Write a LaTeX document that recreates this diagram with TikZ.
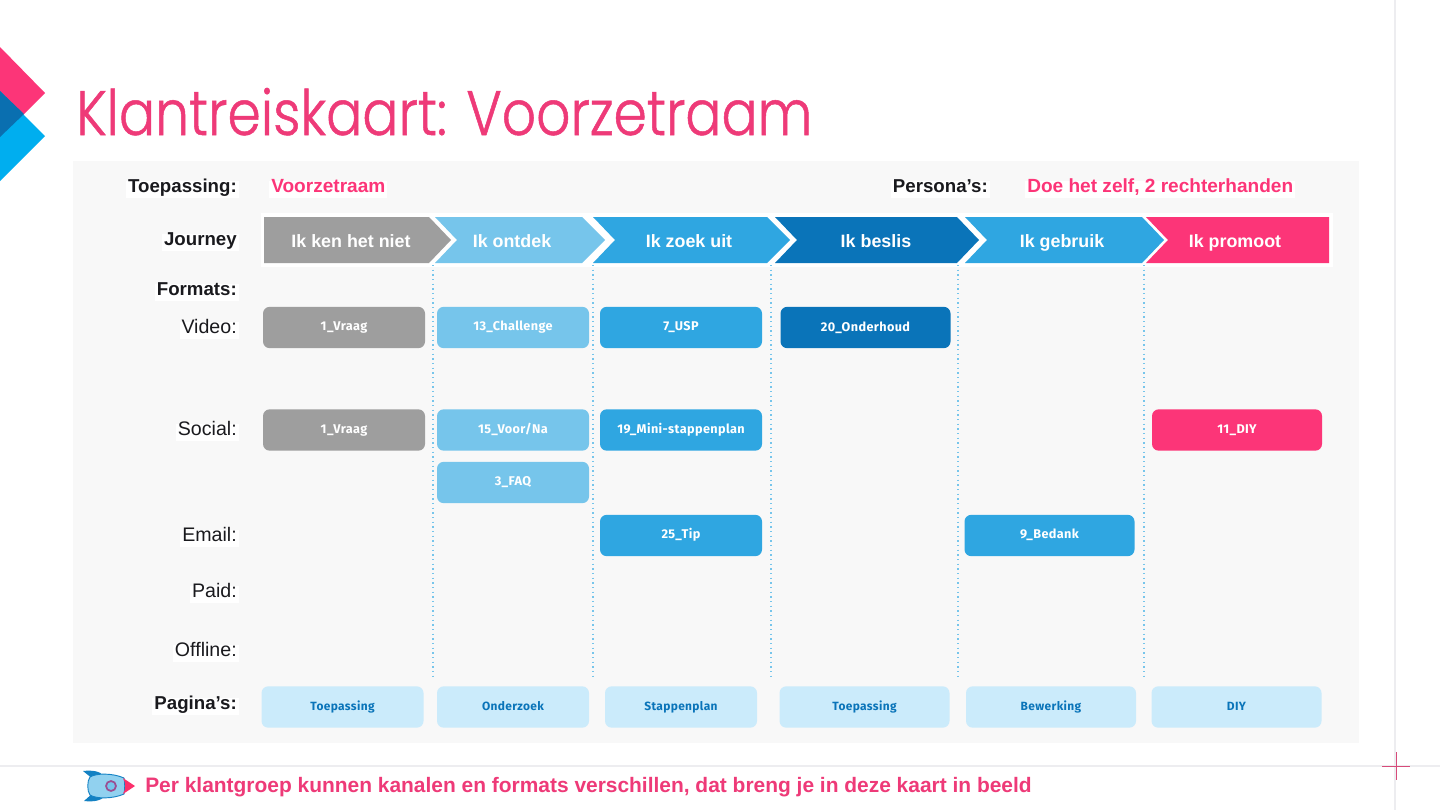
\documentclass[tikz,border=0pt]{standalone}
\usepackage{fontspec}
\setmainfont{Liberation Sans}
\newfontfamily\titlefont[FakeStretch=0.855,FakeBold=0.8]{Poppins Light}
\newfontfamily\boxfont[LetterSpace=3]{Fira Sans}
\definecolor{pinkc}{HTML}{FC3578}
\definecolor{titlec}{HTML}{EE3A78}
\definecolor{darkb}{HTML}{0A74B9}
\definecolor{midb}{HTML}{2FA6E1}
\definecolor{lightb}{HTML}{76C5EB}
\definecolor{grayc}{HTML}{9E9E9E}
\definecolor{paleb}{HTML}{CBEBFB}
\definecolor{panelc}{HTML}{F8F8F8}
\definecolor{gridc}{HTML}{EDEDF0}
\definecolor{skyc}{HTML}{00AEEF}
\definecolor{logod}{HTML}{0A6FB0}
\definecolor{inkc}{HTML}{1A1A1E}
\tikzset{
  x=0.75pt,y=-0.75pt,
  lab/.style={anchor=east,yshift=-2.6pt,fill=white,inner sep=1.5pt,text=inkc,text height=0.74em,text depth=0.22em,font=\fontsize{14.7}{17}\selectfont},
  blab/.style={lab,font=\bfseries\fontsize{14}{16}\selectfont},
  pinklab/.style={anchor=west,yshift=-2.6pt,fill=white,inner sep=1.5pt,text=pinkc,text height=0.74em,text depth=0.22em,font=\bfseries\fontsize{14.3}{16}\selectfont},
  chevtext/.style={yshift=-2.2pt,text=white,text height=0.72em,text depth=0.2em,font=\bfseries\fontsize{13.4}{15}\selectfont},
  card/.style={rounded corners=5pt,minimum height=31pt,inner sep=0pt,text=white,text height=0.72em,text depth=0.22em,font=\boxfont\bfseries\fontsize{9.5}{11}\selectfont},
  page/.style={card,fill=paleb,text=darkb,font=\boxfont\bfseries\fontsize{8.95}{11}\selectfont},
  sep/.style={draw=lightb,line width=1.1pt,dash pattern=on 1.1pt off 2.4pt},
}
\begin{document}
\begin{tikzpicture}
\useasboundingbox (0,0) rectangle (1440,810);
\fill[white] (0,0) rectangle (1440,810);
% guides
\draw[gridc,line width=1pt] (1395,0) -- (1395,810);
\draw[gridc,line width=1pt] (0,766) -- (1440,766);
\draw[pinkc!70!gray,line width=0.75pt] (1396,752) -- (1396,780) (1382,766) -- (1410,766);
% logo
\fill[pinkc] (0,47) -- (45,93) -- (0,138) -- cycle;
\fill[skyc] (0,91) -- (45,136) -- (0,181) -- cycle;
\fill[logod] (0,91) -- (24,114) -- (0,137) -- cycle;
% title
\node[anchor=base west,inner sep=0pt,text=titlec,font=\titlefont\fontsize{47}{50}\selectfont] (title) at (76,135) {Klantreiskaart: Voorzetraam};
% panel
\fill[panelc] (73,161) rectangle (1359,743);
% header row
\node[blab] (toep) at (239,186) {Toepassing:};
\node[pinklab] (toepv) at (269,186) {Voorzetraam};
\node[blab] (pers) at (990,186) {Persona’s:};
\node[pinklab] (persv) at (1025,186) {Doe het zelf, 2 rechterhanden};
% journey band
\fill[white] (261,213) rectangle (1333,267);
\fill[grayc] (264,217) -- (429,217) -- (451,240) -- (429,263) -- (264,263) -- cycle;
\fill[lightb] (435,217) -- (582,217) -- (605,240) -- (582,263) -- (435,263) -- (457,240) -- cycle;
\fill[midb] (593,217) -- (767,217) -- (790,240) -- (767,263) -- (593,263) -- (615,240) -- cycle;
\fill[darkb] (775,217) -- (957,217) -- (979,240) -- (957,263) -- (775,263) -- (797,240) -- cycle;
\fill[midb] (965,217) -- (1142,217) -- (1164,240) -- (1142,263) -- (965,263) -- (987,240) -- cycle;
\fill[pinkc] (1146,217) -- (1329,217) -- (1329,263) -- (1146,263) -- (1168,240) -- cycle;
\node[chevtext] (c1) at (351,241) {Ik ken het niet};
\node[chevtext] (c2) at (512,241) {Ik ontdek};
\node[chevtext] (c3) at (689,241) {Ik zoek uit};
\node[chevtext] (c4) at (876,241) {Ik beslis};
\node[chevtext] (c5) at (1062,241) {Ik gebruik};
\node[chevtext] (c6) at (1235,241) {Ik promoot};
% dotted separators
\foreach \n/\x in {a/433,b/593,c/771,d/958,e/1144}{
  \coordinate (s\n t) at (\x,265);
  \coordinate (s\n b) at (\x,677);
  \draw[sep] (s\n t) -- (s\n b);
}
% row labels
\node[blab] (journey) at (239,239) {Journey};
\node[blab] (formats) at (239,289) {Formats:};
\node[lab] (video) at (239,327) {Video:};
\node[lab] (social) at (239,429) {Social:};
\node[lab] (email) at (239,535) {Email:};
\node[lab] (paid) at (239,591) {Paid:};
\node[lab] (offline) at (239,650) {Offline:};
\node[blab] (pag) at (239,703) {Pagina’s:};
% cards
\node[card,fill=grayc,minimum width=121.5pt] (v1) at (344,327.5) {1\_Vraag};
\node[card,fill=lightb,minimum width=114pt] (v2) at (513,327.5) {13\_Challenge};
\node[card,fill=midb,minimum width=121.5pt] (v3) at (681,327.5) {7\_USP};
\node[card,fill=darkb,minimum width=127.5pt,text height=0.88em] (v4) at (865.5,327.5) {20\_Onderhoud};
\node[card,fill=grayc,minimum width=121.5pt] (s1) at (344,430) {1\_Vraag};
\node[card,fill=lightb,minimum width=114pt] (s2) at (513,430) {15\_Voor/Na};
\node[card,fill=midb,minimum width=121.5pt] (s3) at (681,430) {19\_Mini-stappenplan};
\node[card,fill=pinkc,minimum width=127.5pt] (s6) at (1237,430) {11\_DIY};
\node[card,fill=lightb,minimum width=114pt] (s7) at (513,482.5) {3\_FAQ};
\node[card,fill=midb,minimum width=121.5pt] (e3) at (681,535.5) {25\_Tip};
\node[card,fill=midb,minimum width=127.5pt] (e5) at (1049.5,535.5) {9\_Bedank};
% pages
\node[page,minimum width=121.5pt] (p1) at (342.5,707) {Toepassing};
\node[page,minimum width=114pt] (p2) at (513,707) {Onderzoek};
\node[page,minimum width=114pt] (p3) at (681,707) {Stappenplan};
\node[page,minimum width=127.5pt] (p4) at (864.5,707) {Toepassing};
\node[page,minimum width=127.5pt] (p5) at (1051,707) {Bewerking};
\node[page,minimum width=127.5pt] (p6) at (1236.5,707) {DIY};
% rocket
\fill[darkb!75!midb] (83,771) .. controls (92,770) and (100,771) .. (104,776) -- (93,779) -- cycle;
\fill[darkb!75!midb] (84,801) .. controls (93,802) and (101,801) .. (105,796) -- (93,793) -- cycle;
\draw[darkb!70!midb,fill=lightb!80!white,line width=0.7pt] (124,778) .. controls (113,773) and (96,773) .. (90,777) .. controls (87,781) and (87,791) .. (90,795) .. controls (96,799) and (113,799) .. (124,794) .. controls (125,789) and (125,783) .. (124,778) -- cycle;
\fill[pinkc!90!red] (123,778) -- (135,786) -- (123,794) .. controls (126,789) and (126,783) .. (123,778) -- cycle;
\draw[pinkc!60!darkb,fill=lightb,line width=1.3pt] (111,786) circle[radius=5];
% footer
\node[anchor=base west,inner sep=0pt,text=titlec,font=\bfseries\fontsize{15.7}{18}\selectfont] (foot) at (145,792) {Per klantgroep kunnen kanalen en formats verschillen, dat breng je in deze kaart in beeld};
\end{tikzpicture}
\end{document}
